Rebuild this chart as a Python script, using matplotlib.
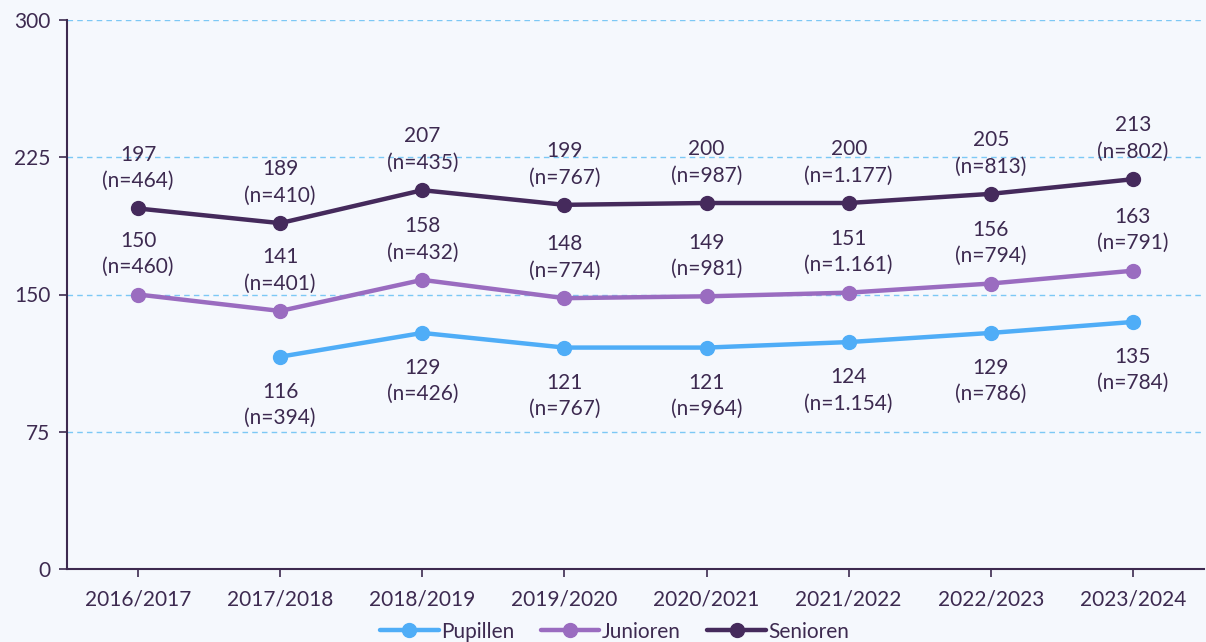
import matplotlib.pyplot as plt

seasons = ['2016/2017', '2017/2018', '2018/2019', '2019/2020',
           '2020/2021', '2021/2022', '2022/2023', '2023/2024']

pupillen = [None, 116, 129, 121, 121, 124, 129, 135]
pupillen_n = [None, '394', '426', '767', '964', '1.154', '786', '784']
junioren = [150, 141, 158, 148, 149, 151, 156, 163]
junioren_n = ['460', '401', '432', '774', '981', '1.161', '794', '791']
senioren = [197, 189, 207, 199, 200, 200, 205, 213]
senioren_n = ['464', '410', '435', '767', '987', '1.177', '813', '802']

bg = '#f5f8fd'
txt = '#3d2a50'
c_pup = '#4fadf7'
c_jun = '#9a6cc0'
c_sen = '#452a5c'

plt.rcParams['font.family'] = ['Lato', 'DejaVu Sans']

fig = plt.figure(figsize=(12.06, 6.42), dpi=100, facecolor=bg)
ax = fig.add_axes([67 / 1206, 73 / 642, 1137 / 1206, 549 / 642])
ax.set_facecolor(bg)

x = list(range(len(seasons)))

def draw(vals, ns, color, label, above):
    xs = [i for i, v in zip(x, vals) if v is not None]
    ys = [v for v in vals if v is not None]
    ax.plot(xs, ys, color=color, lw=3.2, marker='o', markersize=10,
            label=label, zorder=3, solid_capstyle='round')
    for i, v, n in zip(x, vals, ns):
        if v is None:
            continue
        s = f'{v}\n(n={n})'
        if above:
            ax.annotate(s, (i, v), xytext=(0, 12.5), textcoords='offset points',
                        ha='center', va='bottom', fontsize=15, color=txt,
                        linespacing=1.4)
        else:
            ax.annotate(s, (i, v), xytext=(0, -18), textcoords='offset points',
                        ha='center', va='top', fontsize=15, color=txt,
                        linespacing=1.4)

draw(pupillen, pupillen_n, c_pup, 'Pupillen', False)
draw(junioren, junioren_n, c_jun, 'Junioren', True)
draw(senioren, senioren_n, c_sen, 'Senioren', True)

ax.set_xlim(-0.5, len(seasons) - 0.5)
ax.set_ylim(0, 300)
ax.set_yticks([0, 75, 150, 225, 300])
ax.set_xticks(x)
ax.set_xticklabels(seasons)
ax.tick_params(axis='both', colors=txt, labelsize=15, length=6, width=1.2)
ax.tick_params(axis='x', pad=9)
ax.tick_params(axis='y', pad=6)

for yv in [75, 150, 225, 300]:
    ax.axhline(yv, color='#7cc8f5', lw=1, ls=(0, (4, 3)), zorder=1)

for side in ['top', 'right']:
    ax.spines[side].set_visible(False)
for side in ['left', 'bottom']:
    ax.spines[side].set_color(txt)
    ax.spines[side].set_linewidth(1.5)

ax.legend(loc='upper center', bbox_to_anchor=(0.4815, -0.096), ncol=3,
          frameon=False, fontsize=15, labelcolor=txt, handlelength=2.8,
          handletextpad=0.1, columnspacing=1.3, borderaxespad=0,
          borderpad=0)

fig.savefig('out.png', dpi=100, facecolor=bg)
